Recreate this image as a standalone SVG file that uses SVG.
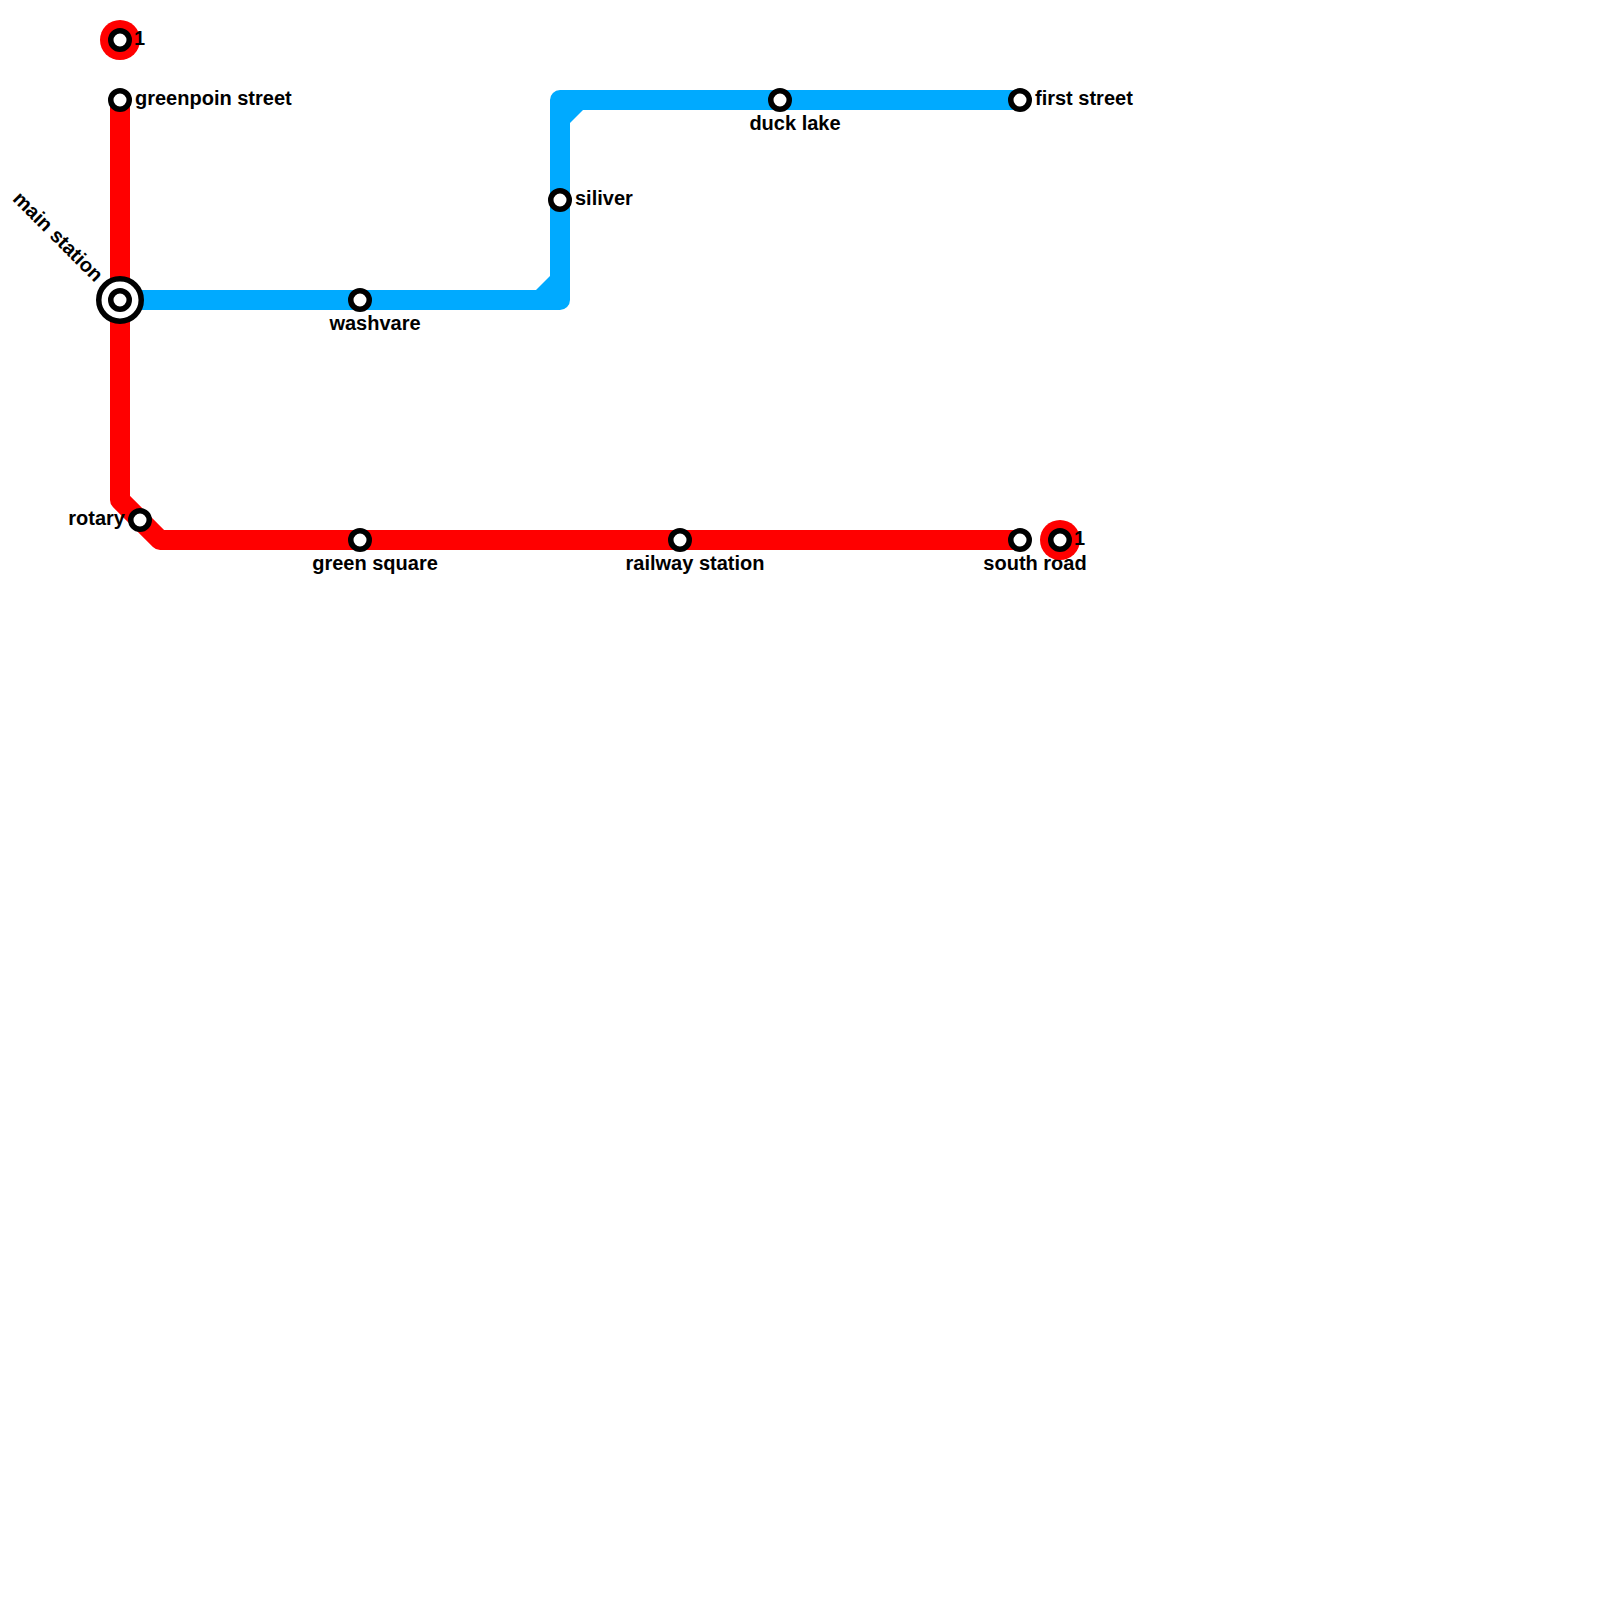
<svg xmlns="http://www.w3.org/2000/svg" width="1600" height="1600" viewBox="0 0 1600 1600">
<style>
.line{fill:none;stroke-width:20;stroke-linejoin:round}
.red{stroke:#ff0000}.blue{stroke:#00aaff}
.st{fill:#fff;stroke:#000;stroke-width:5.5}
.t{fill:#ff0000}
text{font-family:"Liberation Sans",Arial,sans-serif;font-weight:700;font-size:20px;fill:#000}
.m{text-anchor:middle}.e{text-anchor:end}
</style>
<rect width="1600" height="1600" fill="#fff"/>
<g id="connectors">
<path class="line red" d="M120 100V500L160 540H1020"/>
<path class="line blue" d="M120 300H560V100H1020"/>
<path fill="#00aaff" d="M534 292L552 274V292ZM569 124V108H585Z"/>
</g>
<g id="term-top"><circle class="t" cx="120" cy="40" r="20"/><circle class="st" cx="120" cy="40" r="9.25"/><text x="134" y="45">1</text></g>
<g id="greenpoin"><circle class="st" cx="120" cy="100" r="9.25"/><text x="135" y="105">greenpoin street</text></g>
<g id="main"><circle class="st" cx="120" cy="300" r="21.25"/><circle class="st" cx="120" cy="300" r="9.25"/><text class="e" transform="translate(95 283) rotate(45)">main station</text></g>
<g id="washvare"><circle class="st" cx="360" cy="300" r="9.25"/><text class="m" x="375" y="330">washvare</text></g>
<g id="siliver"><circle class="st" cx="560" cy="200" r="9.25"/><text x="575" y="205">siliver</text></g>
<g id="duck"><circle class="st" cx="780" cy="100" r="9.25"/><text class="m" x="795" y="130">duck lake</text></g>
<g id="first"><circle class="st" cx="1020" cy="100" r="9.25"/><text x="1035" y="105">first street</text></g>
<g id="rotary"><circle class="st" cx="140" cy="520" r="9.25"/><text class="e" x="125" y="525">rotary</text></g>
<g id="green"><circle class="st" cx="360" cy="540" r="9.25"/><text class="m" x="375" y="570">green square</text></g>
<g id="railway"><circle class="st" cx="680" cy="540" r="9.25"/><text class="m" x="695" y="570">railway station</text></g>
<g id="south"><circle class="st" cx="1020" cy="540" r="9.25"/><text class="m" x="1035" y="570">south road</text></g>
<g id="term-end"><circle class="t" cx="1060" cy="540" r="20"/><circle class="st" cx="1060" cy="540" r="9.25"/><text x="1074" y="545">1</text></g>
</svg>
